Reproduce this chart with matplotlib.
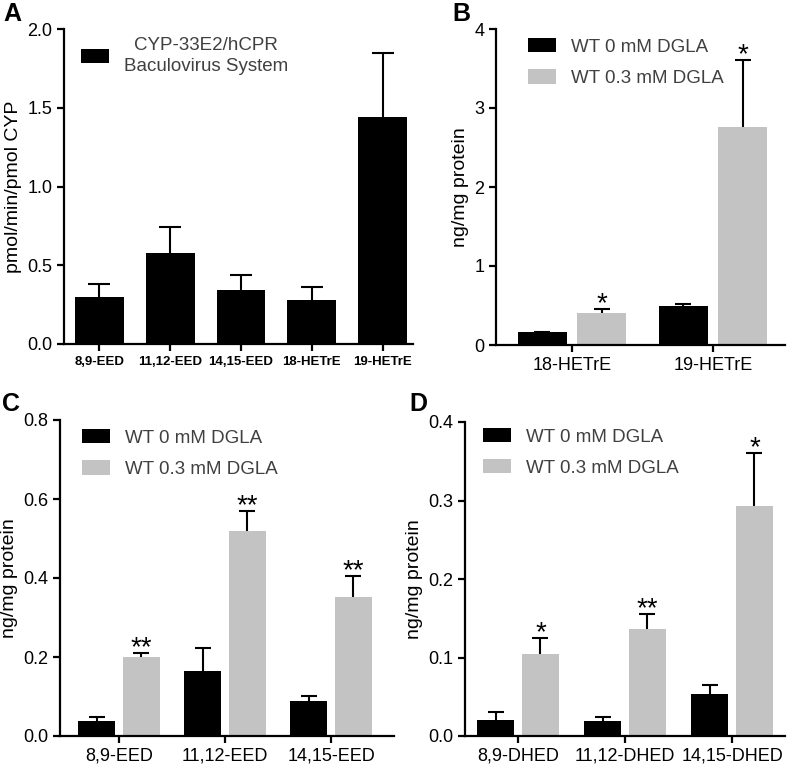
import numpy as np
import matplotlib
matplotlib.use("Agg")
import matplotlib.pyplot as plt

plt.rcParams['font.family'] = ['Liberation Sans', 'DejaVu Sans']

# Panel A: CYP-33E2/hCPR baculovirus system
a_labels = ['8,9-EED', '11,12-EED', '14,15-EED', '18-HETrE', '19-HETrE']
a_vals = [0.30, 0.58, 0.34, 0.28, 1.44]
a_err = [0.08, 0.16, 0.095, 0.08, 0.41]

# Panel B
b_labels = ['18-HETrE', '19-HETrE']
b_ctrl = [0.16, 0.50]
b_ctrl_err = [0.01, 0.02]
b_dgla = [0.41, 2.76]
b_dgla_err = [0.045, 0.85]
b_stars = ['*', '*']

# Panel C
c_labels = ['8,9-EED', '11,12-EED', '14,15-EED']
c_ctrl = [0.039, 0.165, 0.089]
c_ctrl_err = [0.008, 0.059, 0.013]
c_dgla = [0.199, 0.52, 0.351]
c_dgla_err = [0.012, 0.05, 0.054]
c_stars = ['**', '**', '**']

# Panel D
d_labels = ['8,9-DHED', '11,12-DHED', '14,15-DHED']
d_ctrl = [0.021, 0.0195, 0.0534]
d_ctrl_err = [0.010, 0.005, 0.012]
d_dgla = [0.105, 0.136, 0.293]
d_dgla_err = [0.020, 0.019, 0.067]
d_stars = ['*', '**', '*']

GREY = '#c3c3c3'
W, H = 787, 766
fig = plt.figure(figsize=(W / 100, H / 100), dpi=100)


def make_axes(left, right, top, bottom):
    ax = fig.add_axes([left / W, 1 - bottom / H, (right - left) / W, (bottom - top) / H])
    for s in ['top', 'right']:
        ax.spines[s].set_visible(False)
    for s in ['left', 'bottom']:
        ax.spines[s].set_linewidth(1.6)
    ax.tick_params(width=1.6, length=5, labelsize=13, direction='out')
    return ax


def up_errors(ax, x, vals, err, capsize):
    # only the upper half of each error bar, as in the original
    eb = ax.errorbar(x, vals, yerr=[np.zeros(len(x)), err], fmt='none', ecolor='black',
                     elinewidth=1.5, capsize=capsize, capthick=1.5, zorder=3)
    eb[1][0].set_visible(False)


def grouped(ax, labels, ctrl, ctrl_err, dgla, dgla_err, stars, ylim, yticks, fmt, anchor):
    x = np.arange(len(labels))
    off, w = 0.21, 0.35
    ax.bar(x - off, ctrl, w, color='black', label='WT 0 mM DGLA', zorder=2)
    ax.bar(x + off, dgla, w, color=GREY, label='WT 0.3 mM DGLA', zorder=2)
    up_errors(ax, x - off, ctrl, ctrl_err, 6)
    up_errors(ax, x + off, dgla, dgla_err, 6)
    for xi, v, e, s in zip(x, dgla, dgla_err, stars):
        ax.annotate(s, (xi + off, v + e), xytext=(0, -1.5), textcoords='offset points',
                    ha='center', va='baseline', fontsize=20)
    ax.set_ylim(*ylim)
    ax.set_yticks(yticks)
    ax.set_yticklabels([fmt.format(t) for t in yticks])
    ax.set_xticks(x)
    ax.set_xticklabels(labels, fontsize=13)
    ax.set_ylabel('ng/mg protein', fontsize=14)
    leg = ax.legend(loc='upper left', bbox_to_anchor=anchor, frameon=False,
                    fontsize=13.5, handlelength=1.5, handleheight=0.8,
                    handletextpad=0.8, labelspacing=0.72)
    for t in leg.get_texts():
        t.set_color('#404040')
    return ax


# A
axA = make_axes(64, 413, 29, 344)
xa = np.arange(len(a_labels))
axA.bar(xa, a_vals, 0.69, color='black', label='CYP-33E2/hCPR\nBaculovirus System', zorder=2)
up_errors(axA, xa, a_vals, a_err, 8)
axA.set_xlim(-0.5, 4.43)
axA.set_ylim(0, 2.0)
axA.set_yticks([0, 0.5, 1.0, 1.5, 2.0])
axA.set_yticklabels(['0.0', '0.5', '1.0', '1.5', '2.0'])
axA.set_xticks(xa)
axA.set_xticklabels(a_labels, fontsize=9.5, fontweight='bold')
axA.set_ylabel('pmol/min/pmol CYP', fontsize=14)
legA = axA.legend(loc='upper left', bbox_to_anchor=(0.0, 1.029), frameon=False,
                  fontsize=13.5, handlelength=1.5, handleheight=0.8, handletextpad=0.8)
for t in legA.get_texts():
    t.set_color('#404040')
    t.set_multialignment('center')
    t.set_linespacing(1.35)

# B
axB = make_axes(496, 785, 29, 345)
grouped(axB, b_labels, b_ctrl, b_ctrl_err, b_dgla, b_dgla_err, b_stars,
        (0, 4), [0, 1, 2, 3, 4], '{:.0f}', (0.052, 1.025))
axB.set_xlim(-0.539, 1.51)

# C
axC = make_axes(60, 394, 420, 736)
grouped(axC, c_labels, c_ctrl, c_ctrl_err, c_dgla, c_dgla_err, c_stars,
        (0, 0.8), [0, 0.2, 0.4, 0.6, 0.8], '{:.1f}', (0.015, 1.025))
axC.set_xlim(-0.557, 2.594)

# D
axD = make_axes(465, 785, 422, 736)
grouped(axD, d_labels, d_ctrl, d_ctrl_err, d_dgla, d_dgla_err, d_stars,
        (0, 0.4), [0, 0.1, 0.2, 0.3, 0.4], '{:.1f}', (0.003, 1.035))
axD.set_xlim(-0.495, 2.495)

for lbl, (px, py) in zip('ABCD', [(3, 2), (452, 2), (2, 392), (409, 392)]):
    fig.text(px / W, 1 - py / H, lbl, fontsize=18, fontweight='bold', va='top', ha='left')

fig.savefig('out.png', dpi=100)
